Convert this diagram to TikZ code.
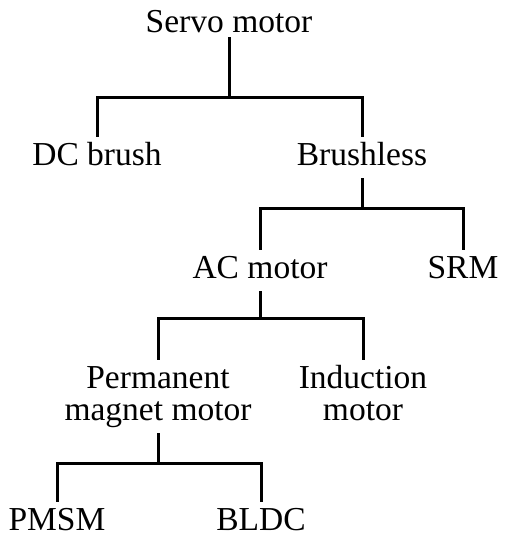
\documentclass[tikz,border=0pt]{standalone}
\usepackage{fontspec}
\setmainfont{Liberation Serif}

\begin{document}
\begin{tikzpicture}[
    x=1pt, y=-1pt,
    lbl/.style={inner sep=0pt, anchor=base, align=center,
                font=\fontsize{33.5}{32}\selectfont,
                text height=28pt, text depth=13pt},
    twolbl/.style={lbl, text height=},
    link/.style={line width=3pt, line join=miter},
]
    \useasboundingbox (0,0) rectangle (508,536);
    % labels
    \node[lbl, text depth=5pt] (servo) at (229,32) {Servo motor};
    \node[lbl] (dcbrush) at (97,165) {DC brush};
    \node[lbl] (brushless) at (362,165) {Brushless};
    \node[lbl] (acmotor) at (260,278) {AC motor};
    \node[lbl] (srm) at (463,278) {SRM};
    \node[twolbl] (pmmotor) at (158,420) {\rule{0pt}{28pt}Permanent\\magnet motor};
    \node[twolbl] (indmotor) at (363,420) {\rule{0pt}{28pt}Induction\\motor};
    \node[lbl] (pmsm) at (57,530) {PMSM};
    \node[lbl] (bldc) at (261,530) {BLDC};
    % junctions
    \coordinate (j1) at (229,97);
    \coordinate (j2) at (362,208);
    \coordinate (j3) at (260,318);
    \coordinate (j4) at (158,463);
    % tree links
    \draw[link] (servo.south) -- (j1);
    \draw[link] (dcbrush.north) |- (j1) -| (brushless.north);
    \draw[link] (brushless.south) -- (j2);
    \draw[link] (acmotor.north) |- (j2) -| (srm.north);
    \draw[link] (acmotor.south) -- (j3);
    \draw[link] (pmmotor.north) |- (j3) -| (indmotor.north);
    \draw[link] (pmmotor.south) -- (j4);
    \draw[link] (pmsm.north) |- (j4) -| (bldc.north);
\end{tikzpicture}
\end{document}
